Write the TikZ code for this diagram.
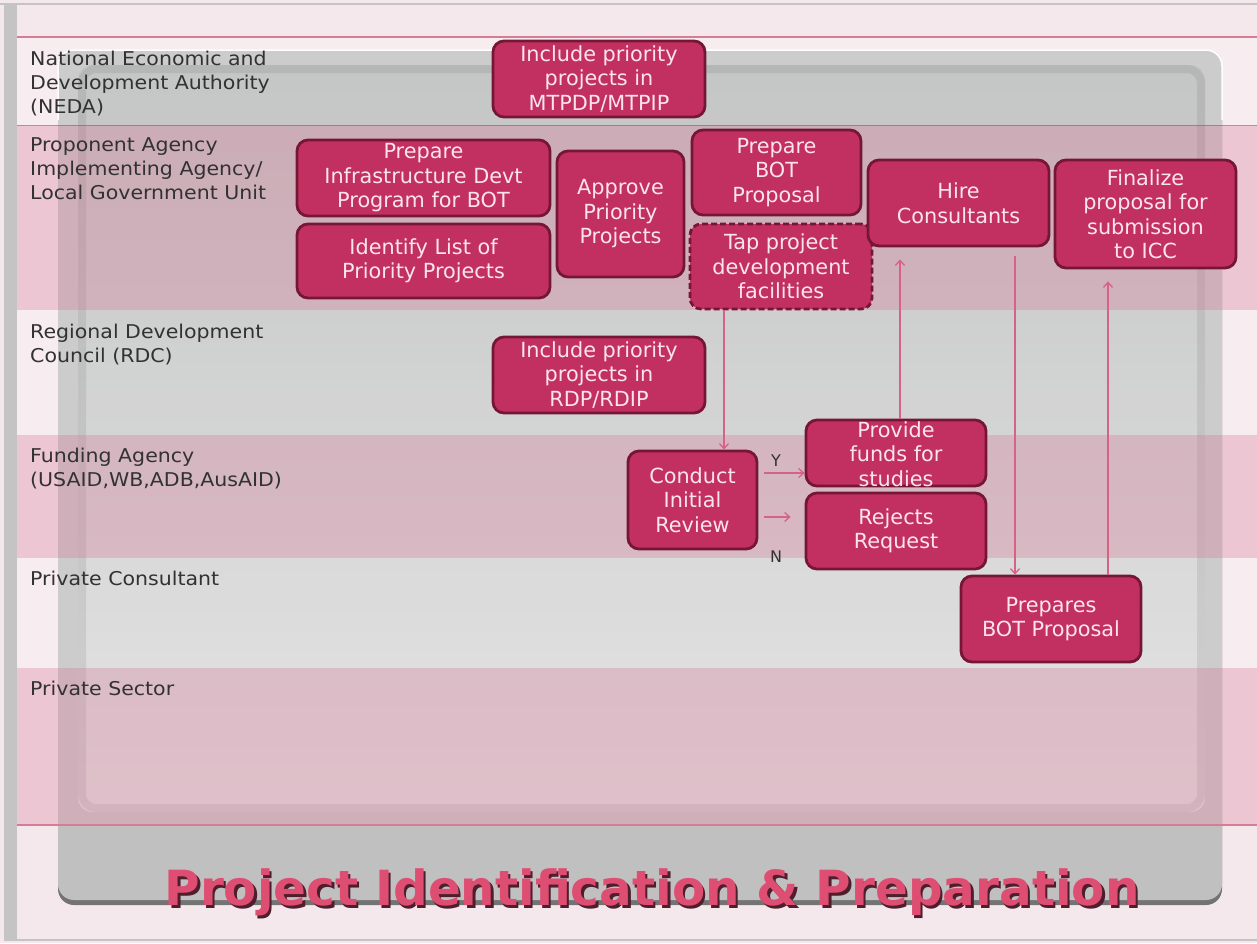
\documentclass[tikz,border=0pt]{standalone}
\usepackage{fontspec}
\setmainfont{DejaVu Sans}
\newfontfamily\boxfont{DejaVu Sans}
\newfontfamily\lanefont[FakeStretch=1.08]{DejaVu Sans}
\newfontfamily\titlefont{DejaVu Sans}
\usetikzlibrary{arrows.meta}
\definecolor{bgpink}{RGB}{245,232,236}
\definecolor{edgegray}{RGB}{196,196,196}
\definecolor{panelgray}{RGB}{193,192,192}
\definecolor{innertop}{RGB}{182,183,183}
\definecolor{innerbot}{RGB}{222,222,222}
\definecolor{lanepink}{RGB}{226,158,180}
\definecolor{laneline}{RGB}{214,125,150}
\definecolor{boxfill}{RGB}{194,48,97}
\definecolor{boxborder}{RGB}{118,22,55}
\definecolor{boxtext}{RGB}{252,228,238}
\definecolor{connpink}{RGB}{214,98,134}
\definecolor{labgray}{RGB}{50,50,50}
\definecolor{titlepink}{RGB}{222,78,115}
\definecolor{titleshadow}{RGB}{78,30,44}
\tikzset{
  proc/.style={draw=boxborder, line width=2.8pt, fill=boxfill, rounded corners=11pt,
    text=boxtext, font=\boxfont\fontsize{20.8}{24.5}\selectfont, align=center, inner sep=0pt},
  tapbox/.style={proc, dashed, dash pattern=on 6pt off 3pt},
  conn/.style={draw=connpink, line width=1.3pt, -{Straight Barb[length=5pt,width=9pt]}},
  lanelab/.style={anchor=north west, inner sep=0pt, align=left, text=labgray,
    font=\lanefont\fontsize{19}{24}\selectfont},
  ynlab/.style={inner sep=0pt, text=labgray, font=\boxfont\fontsize{16}{18}\selectfont},
  pinklane/.style={fill=lanepink, fill opacity=0.45},
  whitelane/.style={fill=white, fill opacity=0.2},
}
\begin{document}
\begin{tikzpicture}[x=1pt,y=-1pt]
\useasboundingbox (0,0) rectangle (1257,943);
% background and frame
\fill[bgpink] (0,0) rectangle (1257,943);
\fill[edgegray] (4,4) rectangle (17,941);
\draw[edgegray, line width=2pt] (0,4) -- (1257,4);
\draw[edgegray, line width=2pt] (4,940) -- (1257,940);
% panel
\fill[black!55, rounded corners=16pt] (58,58) rectangle (1222,905);
\fill[panelgray, rounded corners=16pt] (58,50) rectangle (1222,900);
\draw[white, line width=1.5pt, rounded corners=16pt] (58,120) -- (58,50) -- (1222,50) -- (1222,120);
\shade[rounded corners=14pt, top color=innertop, bottom color=innerbot] (78,65) rectangle (1205,812);
\draw[black, opacity=0.10, line width=8pt, rounded corners=14pt] (82,69) rectangle (1201,808);
% lanes
\fill[whitelane] (17,37) rectangle (1257,125);
\fill[pinklane] (17,125) rectangle (1257,310);
\fill[whitelane] (17,310) rectangle (1257,435);
\fill[pinklane] (17,435) rectangle (1257,558);
\fill[whitelane] (17,558) rectangle (1257,668);
\fill[pinklane] (17,668) rectangle (1257,825);
\draw[laneline, line width=1.5pt] (17,37) -- (1257,37);
\draw[laneline, line width=1.5pt] (17,825) -- (1257,825);
\draw[boxborder, opacity=0.35, line width=1pt] (17,125) -- (1257,125);
% lane labels
\node[lanelab] (l1) at (30,50.6) {National Economic and\\Development Authority\\(NEDA)};
\node[lanelab] (l2) at (30,137.6) {Proponent Agency\\Implementing Agency/\\Local Government Unit};
\node[lanelab] (l3) at (30,323.6) {Regional Development\\Council (RDC)};
\node[lanelab] (l4) at (30,447.6) {Funding Agency\\(USAID,WB,ADB,AusAID)};
\node[lanelab] (l5) at (30,570.6) {Private Consultant};
\node[lanelab] (l6) at (30,680.6) {Private Sector};
% process boxes
\node[proc, minimum width=212pt, minimum height=76pt] (mtpdp) at (599,79) {Include priority\\projects in\\MTPDP/MTPIP};
\node[proc, minimum width=253pt, minimum height=76pt] (infra) at (423.5,178) {Prepare\\Infrastructure Devt\\Program for BOT};
\node[proc, minimum width=253pt, minimum height=74pt] (identify) at (423.5,261) {Identify List of\\Priority Projects};
\node[proc, minimum width=127pt, minimum height=126pt] (approve) at (620.5,214) {Approve\\Priority\\Projects};
\node[proc, minimum width=169pt, minimum height=85pt] (botprop) at (776.5,172.5) {Prepare\\BOT\\Proposal};
\node[tapbox, minimum width=182pt, minimum height=85pt] (tap) at (781,266.5) {Tap project\\development\\facilities};
\node[proc, minimum width=181pt, minimum height=86pt] (hire) at (958.5,203) {Hire\\Consultants};
\node[proc, minimum width=181pt, minimum height=108pt] (finalize) at (1145.5,214) {Finalize\\proposal for\\submission\\to ICC};
\node[proc, minimum width=212pt, minimum height=76pt] (rdp) at (599,375) {Include priority\\projects in\\RDP/RDIP};
\node[proc, minimum width=129pt, minimum height=98pt] (review) at (692.5,500) {Conduct\\Initial\\Review};
\node[proc, minimum width=180pt, minimum height=66pt] (funds) at (896,453) {};
\node[text=boxtext, font=\boxfont\fontsize{20.8}{24.5}\selectfont, align=center, inner sep=0pt] (fundstext) at (896,454) {Provide\\funds for\\studies};
\node[proc, minimum width=180pt, minimum height=76pt] (rejects) at (896,531) {Rejects\\Request};
\node[proc, minimum width=180pt, minimum height=86pt] (prepares) at (1051,619) {Prepares\\BOT Proposal};
% connectors
\coordinate (t1) at ([xshift=-57pt]tap.south);
\draw[conn] (t1) -- (t1 |- review.north);
\coordinate (y1) at ([xshift=6pt,yshift=27pt]review.east);
\draw[conn] (y1) -- (y1 -| funds.west);
\coordinate (n1) at ([xshift=6pt,yshift=-17pt]review.east);
\coordinate (n2) at ([xshift=-14pt,yshift=-17pt]review.east -| rejects.west);
\draw[conn] (n1) -- (n2);
\node[ynlab] (ylab) at (776,461) {Y};
\node[ynlab] (nlab) at (776,557) {N};
\coordinate (f1) at ([xshift=4pt]funds.north);
\coordinate (f2) at ([yshift=-12pt]hire.south);
\draw[conn] (f1) -- (f1 |- f2);
\coordinate (h1) at ([xshift=56.5pt,yshift=-9pt]hire.south);
\draw[conn] (h1) -- (h1 |- prepares.north);
\coordinate (p1) at ([xshift=57pt]prepares.north);
\coordinate (p2) at ([yshift=-12pt]finalize.south);
\draw[conn] (p1) -- (p1 |- p2);
% title
\node[anchor=base, inner sep=0pt, text=titleshadow] (titleshadow) at (654.5,908) {\resizebox{975pt}{!}{\titlefont\bfseries Project Identification \& Preparation}};
\node[anchor=base, inner sep=0pt, text=titlepink] (title) at (652,905) {\resizebox{975pt}{!}{\titlefont\bfseries Project Identification \& Preparation}};
\end{tikzpicture}
\end{document}
